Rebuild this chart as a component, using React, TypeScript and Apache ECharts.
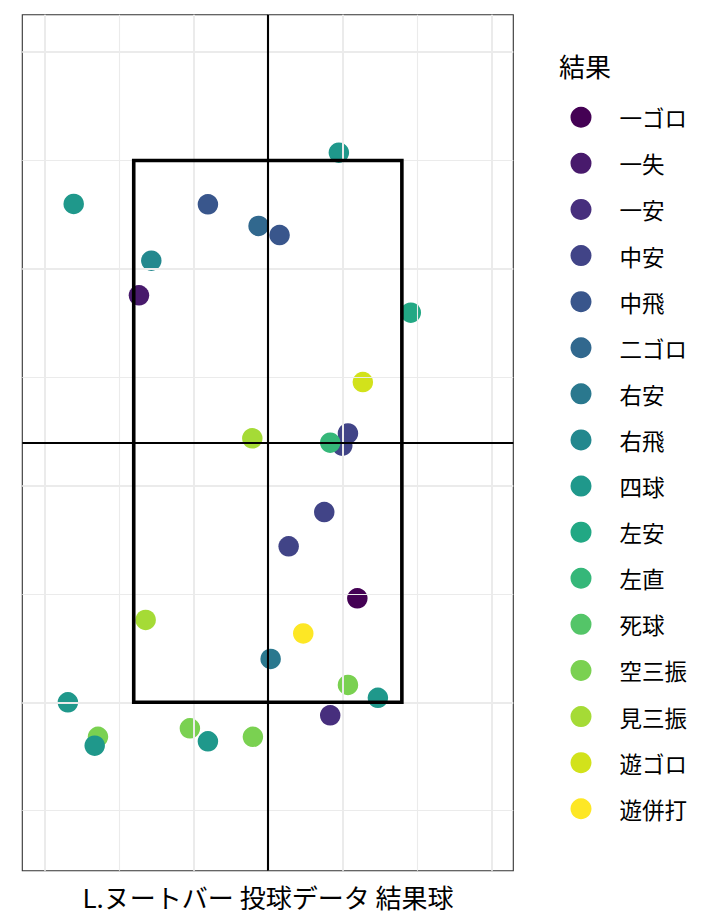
import React, { useEffect, useRef } from 'react';
import * as echarts from 'echarts';

const categories = ['一ゴロ', '一失', '一安', '中安', '中飛', '二ゴロ', '右安', '右飛', '四球', '左安', '左直', '死球', '空三振', '見三振', '遊ゴロ', '遊併打'];
const palette = ['#440154', '#481A6C', '#472F7D', '#414487', '#39568C', '#31688E', '#2A788E', '#23888E', '#1F988B', '#22A884', '#35B779', '#54C568', '#7AD151', '#A5DB36', '#D2E21B', '#FDE725'];

const pointResult = ['四球', '四球', '中飛', '二ゴロ', '中飛', '右飛', '一失', '左安', '遊ゴロ', '見三振', '中安', '中安', '左直', '中安', '中安', '一ゴロ', '見三振', '遊併打', '右安', '空三振', '四球', '四球', '一安', '空三振', '四球', '空三振', '四球', '空三振'];
const pointX = [0.477, -1.303, -0.402, -0.062, 0.079, -0.782, -0.865, 0.960, 0.638, -0.104, 0.538, 0.500, 0.419, 0.379, 0.140, 0.601, -0.820, 0.238, 0.019, 0.538, 0.739, -1.342, 0.419, -1.140, -1.162, -0.523, -0.402, -0.100];
const pointY = [3.536, 3.300, 3.298, 3.198, 3.156, 3.038, 2.878, 2.798, 2.478, 2.218, 2.241, 2.184, 2.198, 1.878, 1.720, 1.480, 1.380, 1.318, 1.200, 1.080, 1.021, 1.000, 0.940, 0.841, 0.800, 0.880, 0.820, 0.841];

const majorX = [-1.5, -0.5, 0.5, 1.5];
const minorX = [-1, 0, 1];
const majorY = [1, 2, 3, 4];
const minorY = [0.5, 1.5, 2.5, 3.5];
const refX = [0];
const refY = [2.2];
const zoneX = [-0.9, 0.9];
const zoneY = [1.0, 3.5];
const xRange = [-1.648, 1.648];
const yRange = [0.223, 4.173];

const legendTitle = '結果';
const axisTitle = 'L.ヌートバー 投球データ 結果球';
const drawOrder = ['一ゴロ', '一失', '一安', '中安', '中飛', '二ゴロ', '右安', '右飛', '左安', '左直', '死球', '空三振', '見三振', '遊ゴロ', '遊併打', '四球'];

const FONT = '"Noto Sans CJK JP", "Noto Sans", sans-serif';

export default function App() {
  const ref = useRef<HTMLDivElement>(null);
  useEffect(() => {
    document.body.style.margin = '0';
    if (!ref.current) return;
    const chart = echarts.init(ref.current, undefined, { renderer: 'svg' });

    const gridLine = (w: number) => ({ color: '#EBEBEB', width: w, type: 'solid' as const });
    const pointSeries = drawOrder.map((cat) => {
      const idx = categories.indexOf(cat);
      const data: number[][] = [];
      pointResult.forEach((r, i) => {
        if (r === cat) data.push([pointX[i], pointY[i]]);
      });
      return {
        name: cat,
        type: 'scatter',
        data,
        symbol: 'circle',
        symbolSize: 20.5,
        z: 3,
        itemStyle: { color: palette[idx], opacity: 1 },
        emphasis: { disabled: true },
      };
    });

    const zoneData = [
      [zoneX[0], zoneY[0]],
      [zoneX[1], zoneY[0]],
      [zoneX[1], zoneY[1]],
      [zoneX[0], zoneY[1]],
      [zoneX[0], zoneY[0]],
    ];

    chart.setOption({
      animation: false,
      backgroundColor: '#ffffff',
      grid: {
        left: 22.3,
        top: 14.7,
        width: 491,
        height: 856,
        show: true,
        borderColor: '#333333',
        borderWidth: 1.1,
        backgroundColor: '#ffffff',
      },
      xAxis: {
        type: 'value',
        min: xRange[0],
        max: xRange[1],
        axisLine: { show: false },
        axisTick: { show: false },
        axisLabel: { show: false },
        splitLine: { show: false },
      },
      yAxis: {
        type: 'value',
        min: yRange[0],
        max: yRange[1],
        axisLine: { show: false },
        axisTick: { show: false },
        axisLabel: { show: false },
        splitLine: { show: false },
      },
      legend: {
        data: categories,
        orient: 'vertical',
        left: 570.5,
        top: 106,
        padding: 0,
        itemWidth: 21,
        itemHeight: 21,
        itemGap: 23.6,
        icon: 'circle',
        selectedMode: false,
        textStyle: { fontSize: 22.5, fontFamily: FONT, color: '#000', padding: [0, 0, 0, 23], lineHeight: 21 },
      },
      graphic: [
        {
          type: 'text',
          left: 559,
          top: 52,
          style: { text: legendTitle, fontSize: 26, fontFamily: FONT, fill: '#000' },
        },
        {
          type: 'text',
          x: 268,
          y: 896,
          style: { text: axisTitle, fontSize: 26, fontFamily: FONT, fill: '#000', align: 'center', verticalAlign: 'middle' },
        },
      ],
      series: [
        {
          type: 'line',
          data: [],
          silent: true,
          z: 1,
          markLine: {
            silent: true,
            symbol: ['none', 'none'],
            label: { show: false },
            emphasis: { disabled: true },
            data: [
              ...minorX.map((v) => ({ xAxis: v, lineStyle: gridLine(1.1) })),
              ...minorY.map((v) => ({ yAxis: v, lineStyle: gridLine(1.1) })),
              ...majorX.map((v) => ({ xAxis: v, lineStyle: gridLine(2) })),
              ...majorY.map((v) => ({ yAxis: v, lineStyle: gridLine(2) })),
            ],
          },
        },
        ...pointSeries,
        {
          type: 'line',
          data: [],
          silent: true,
          z: 5,
          markLine: {
            silent: true,
            symbol: ['none', 'none'],
            label: { show: false },
            emphasis: { disabled: true },
            data: [
              ...refX.map((v) => ({ xAxis: v, lineStyle: { color: '#000', width: 2.1, type: 'solid' } })),
              ...refY.map((v) => ({ yAxis: v, lineStyle: { color: '#000', width: 2.1, type: 'solid' } })),
            ],
          },
        },
        {
          type: 'line',
          data: zoneData,
          silent: true,
          z: 6,
          symbol: 'none',
          showSymbol: false,
          lineStyle: { color: '#000', width: 3.6, type: 'solid', cap: 'square', join: 'miter' },
          emphasis: { disabled: true },
        },
      ],
    });
    return () => chart.dispose();
  }, []);
  return <div ref={ref} style={{ width: 720, height: 921 }} />;
}
